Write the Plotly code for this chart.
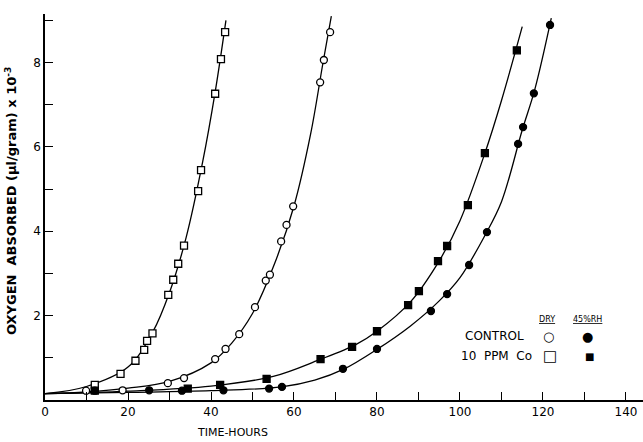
import plotly.graph_objects as go

# ---- measured data (hours, O2 absorbed x10^-3 ul/g) ----
dry_co_x = [12.0, 18.2, 21.8, 23.9, 24.6, 25.9, 29.7, 30.9, 32.1, 33.5, 36.9, 37.6, 41.0, 42.4, 43.4]
dry_co_y = [0.36, 0.62, 0.93, 1.19, 1.40, 1.58, 2.49, 2.85, 3.23, 3.66, 4.95, 5.45, 7.26, 8.08, 8.72]

dry_ctl_x = [9.9, 18.7, 29.6, 33.5, 41.0, 43.5, 46.8, 50.6, 53.2, 54.2, 56.9, 58.2, 59.8, 66.3, 67.2, 68.7]
dry_ctl_y = [0.22, 0.23, 0.40, 0.52, 0.97, 1.21, 1.56, 2.20, 2.83, 2.97, 3.76, 4.15, 4.59, 7.53, 8.06, 8.72]

rh_co_x = [12.0, 34.4, 42.2, 53.4, 66.4, 74.0, 80.0, 87.5, 90.1, 94.7, 96.9, 101.9, 106.0, 113.7]
rh_co_y = [0.22, 0.27, 0.36, 0.50, 0.97, 1.26, 1.63, 2.25, 2.58, 3.29, 3.65, 4.62, 5.85, 8.29]

rh_ctl_x = [12.0, 25.1, 33.0, 43.0, 54.0, 57.1, 71.8, 80.0, 93.0, 96.9, 102.2, 106.5, 114.0, 115.2, 117.8, 121.7]
rh_ctl_y = [0.22, 0.23, 0.22, 0.23, 0.27, 0.31, 0.74, 1.21, 2.11, 2.51, 3.20, 3.98, 6.07, 6.47, 7.27, 8.89]

# ---- hand-drawn fitted curves ----
fit_dry_co_x = [0, 10, 20, 26, 30, 34, 38, 41, 43.6]
fit_dry_co_y = [0.15, 0.32, 0.78, 1.62, 2.55, 3.85, 5.65, 7.3, 9.0]

fit_dry_ctl_x = [0, 10, 20, 30, 40, 45, 50, 55, 60, 64, 67, 69]
fit_dry_ctl_y = [0.15, 0.19, 0.28, 0.44, 0.88, 1.35, 2.05, 3.15, 4.6, 6.3, 8.0, 9.1]

fit_rh_co_x = [0, 20, 40, 55, 66, 75, 80, 88, 95, 100, 106, 110, 115]
fit_rh_co_y = [0.15, 0.21, 0.33, 0.56, 0.95, 1.32, 1.63, 2.32, 3.3, 4.25, 5.85, 7.1, 8.85]

fit_rh_ctl_x = [0, 20, 40, 57, 65, 72, 80, 88, 95, 100, 106, 110, 115, 118, 122]
fit_rh_ctl_y = [0.15, 0.18, 0.22, 0.31, 0.47, 0.73, 1.2, 1.75, 2.35, 2.9, 3.9, 4.7, 6.4, 7.35, 9.05]

x_ticks = [0, 20, 40, 60, 80, 100, 120, 140]
y_ticks = [2, 4, 6, 8]

FONT = "DejaVu Sans"
fig = go.Figure()

for fx, fy in [(fit_dry_co_x, fit_dry_co_y), (fit_dry_ctl_x, fit_dry_ctl_y),
               (fit_rh_co_x, fit_rh_co_y), (fit_rh_ctl_x, fit_rh_ctl_y)]:
    fig.add_trace(go.Scatter(x=fx, y=fy, mode="lines",
                             line=dict(color="black", width=1.3, shape="spline", smoothing=1.0),
                             hoverinfo="skip", showlegend=False))

def pts(x, y, symbol, fill):
    fig.add_trace(go.Scatter(x=x, y=y, mode="markers", showlegend=False, cliponaxis=False,
                             marker=dict(symbol=symbol, size=7, color=fill,
                                         line=dict(color="black", width=1.3))))

pts(dry_co_x, dry_co_y, "square", "white")
pts(dry_ctl_x, dry_ctl_y, "circle", "white")
pts(rh_co_x, rh_co_y, "square", "black")
pts(rh_ctl_x, rh_ctl_y, "circle", "black")

W, H = 643, 442
L, R, T, B = 45, 0, 14, 442 - 400
pw, ph = W - L - R, H - T - B
def px(xp): return (xp - L) / pw
def py(yp): return (H - B - yp) / ph

ann = []
def t(x, y, s, size=11, bold=False):
    ann.append(dict(xref="paper", yref="paper", x=px(x), y=py(y), text=s, showarrow=False,
                    xanchor="center", yanchor="middle",
                    font=dict(family=FONT, size=size, color="black",
                              weight="bold" if bold else "normal")))

# legend block drawn as text
t(547, 319, "<u>DRY</u>", size=8)
t(587, 319, "<u>45%RH</u>", size=8)
t(494, 336, "CONTROL", size=12)
t(496, 356, "10  PPM  Co", size=12)
t(548, 336, "○", size=13)
t(550, 356, "□", size=15)
t(587, 336, "●", size=13)
t(589, 356, "■", size=10)

# axis titles
t(232, 432, "TIME-HOURS", size=11)
ann.append(dict(xref="paper", yref="paper", x=px(11), y=py(201),
                text="OXYGEN  ABSORBED (μl/gram) x 10<sup>-3</sup>", textangle=-90,
                showarrow=False, xanchor="center", yanchor="middle",
                font=dict(family=FONT, size=13, color="black", weight="bold")))

fig.update_layout(
    width=W, height=H, margin=dict(l=L, r=R, t=T, b=B),
    paper_bgcolor="white", plot_bgcolor="white",
    font=dict(family=FONT, size=12, color="black"),
    annotations=ann,
    xaxis=dict(range=[0, 144.1], tickvals=x_ticks, ticks="inside", ticklen=8,
               tickwidth=1.2, tickcolor="black", showline=True, linecolor="black",
               linewidth=1.6, showgrid=False, zeroline=False,
               minor=dict(dtick=10, ticks="inside", ticklen=8, tickcolor="black", tickwidth=1.2),
               tickfont=dict(family=FONT, size=12)),
    yaxis=dict(range=[0, 9.15], tickvals=y_ticks, ticks="inside", ticklen=8,
               tickwidth=1.2, tickcolor="black", showline=True, linecolor="black",
               linewidth=1.6, showgrid=False, zeroline=False,
               minor=dict(dtick=1, ticks="inside", ticklen=8, tickcolor="black", tickwidth=1.2),
               tickfont=dict(family=FONT, size=12)),
)

fig.write_html("out.html", config={"displayModeBar": False},
               post_script="document.body.style.margin='0px';document.body.style.overflow='hidden';")
